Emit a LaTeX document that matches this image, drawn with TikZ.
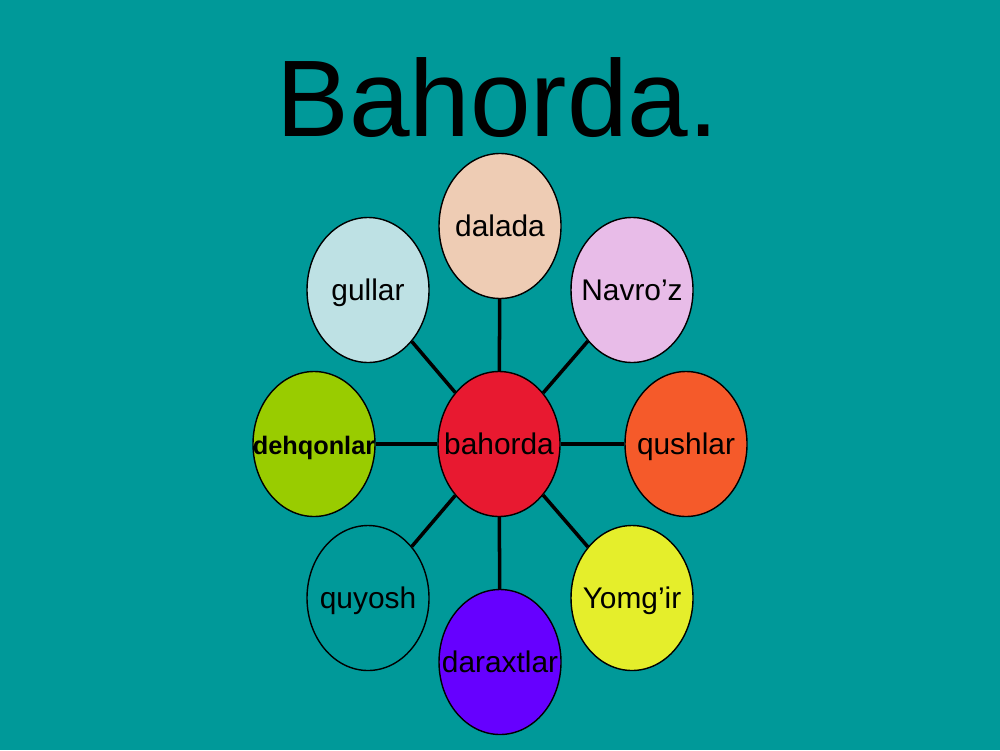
\documentclass[tikz,border=0pt]{standalone}
\usepackage{fontspec}
\setmainfont{Liberation Sans}
\usetikzlibrary{shapes.geometric}
\definecolor{bgteal}{RGB}{0,153,153}
\definecolor{peach}{RGB}{238,204,180}
\definecolor{paleblue}{RGB}{190,225,228}
\definecolor{lilac}{RGB}{232,188,232}
\definecolor{limegreen}{RGB}{153,204,0}
\definecolor{bahred}{RGB}{232,25,48}
\definecolor{orangered}{RGB}{245,90,42}
\definecolor{lemon}{RGB}{229,238,43}
\definecolor{violet}{RGB}{102,0,255}
\newcommand{\bubbletext}[1]{\makebox[0pt]{#1}}
\tikzset{bubble/.style = {ellipse, draw, line width = 0.4pt, minimum width = 1.22cm,
                          minimum height = 1.45cm, inner sep = 0,
                          text height = 0.26cm, text depth = 0.06cm,
                          font = \fontsize{8.5}{9}\selectfont}}
\tikzset{spoke/.style = {line width = 1pt}}

\begin{document}
\begin{tikzpicture}
      \fill [bgteal] (0, 0) rectangle (10, 7.5);
      \useasboundingbox (0, 0) rectangle (10, 7.5);
      \node [anchor = base, font = \fontsize{31}{32}\selectfont] (title) at (4.975, 6.13) {Bahorda.};

      \node [bubble, fill=bahred] (bahorda) at (4.99, 3.06) {\bubbletext{bahorda}};
      \node [bubble, fill=peach] (dalada) at (5.00, 5.24) {\bubbletext{dalada}};
      \node [bubble, fill=paleblue] (gullar) at (3.68, 4.60) {\bubbletext{gullar}};
      \node [bubble, fill=lilac] (navroz) at (6.32, 4.60) {\bubbletext{Navro’z}};
      \node [bubble, fill=limegreen, font = \fontsize{7.2}{8}\selectfont\bfseries] (dehqonlar) at (3.14, 3.06) {\bubbletext{dehqonlar}};
      \node [bubble, fill=orangered] (qushlar) at (6.86, 3.06) {\bubbletext{qushlar}};
      \node [bubble] (quyosh) at (3.68, 1.52) {\bubbletext{quyosh}};
      \node [bubble, fill=lemon] (yomgir) at (6.32, 1.52) {\bubbletext{Yomg’ir}};
      \node [bubble, fill=violet] (daraxtlar) at (5.00, 0.88) {\bubbletext{daraxtlar}};

      \draw [spoke] (bahorda) -- (dalada);
      \draw [spoke] (bahorda) -- (gullar);
      \draw [spoke] (bahorda) -- (navroz);
      \draw [spoke] (bahorda) -- (dehqonlar);
      \draw [spoke] (bahorda) -- (qushlar);
      \draw [spoke] (bahorda) -- (quyosh);
      \draw [spoke] (bahorda) -- (yomgir);
      \draw [spoke] (bahorda) -- (daraxtlar);
    \end{tikzpicture}
\end{document}
